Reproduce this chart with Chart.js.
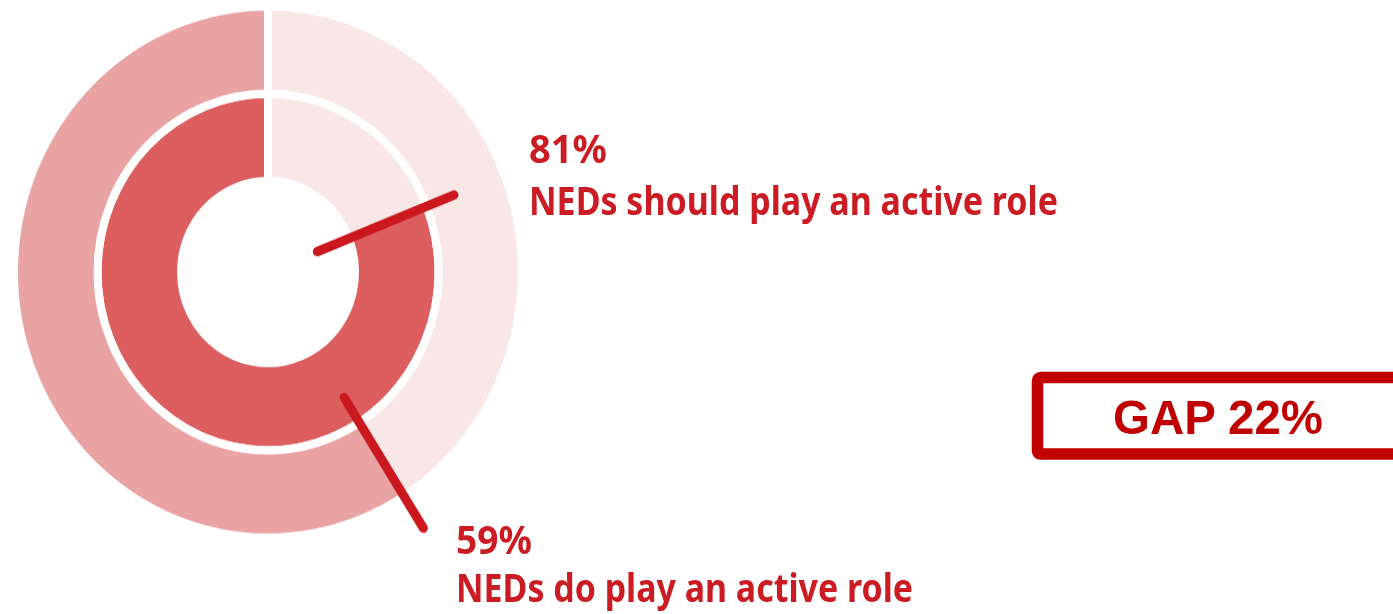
<!DOCTYPE html>
<html>
<head>
<meta charset="utf-8">
<script src="https://cdn.jsdelivr.net/npm/chart.js@4/dist/chart.umd.min.js"></script>
<style>
  html, body { margin: 0; padding: 0; background: #ffffff; }
  body { width: 1393px; height: 614px; position: relative; overflow: hidden; }
  #wrap { position: absolute; left: -2px; top: 1.5px; width: 540px; height: 540px;
          transform: scaleY(1.046); transform-origin: 50% 50%; }
  #overlay { position: absolute; left: 0; top: 0; pointer-events: none; }
  .lbl { font-family: "Noto Sans", Lato, sans-serif; font-weight: 700; fill: #CC1C23; }
  .gap { font-family: "Liberation Sans", Arial, sans-serif; font-weight: 700; fill: #C00000; }
</style>
</head>
<body>
<div id="wrap"><canvas id="c" width="540" height="540"></canvas></div>
<svg id="overlay" width="1393" height="614" xmlns="http://www.w3.org/2000/svg">
  <rect x="1037.5" y="377.6" width="362" height="76.5" rx="3" fill="none" stroke="#C00000" stroke-width="11.5"></rect>
  <text id="gapText" class="gap" x="1113" y="434" font-size="48" textLength="210" lengthAdjust="spacingAndGlyphs"></text>
  <text id="shouldPct" class="lbl" x="529" y="163" font-size="39" textLength="78" lengthAdjust="spacingAndGlyphs"></text>
  <text id="shouldLbl" class="lbl" x="529" y="215" font-size="39" textLength="529" lengthAdjust="spacingAndGlyphs"></text>
  <text id="doPct" class="lbl" x="456" y="554" font-size="39" textLength="76" lengthAdjust="spacingAndGlyphs"></text>
  <text id="doLbl" class="lbl" x="456" y="602" font-size="39" textLength="457" lengthAdjust="spacingAndGlyphs"></text>
</svg>
<script>
// ---- data ----
const segmentNames = ['Remainder', 'Active role'];
const doPlayValues = [41, 59];       // outer ring: NEDs do play an active role
const shouldPlayValues = [19, 81];   // inner ring: NEDs should play an active role
const doPlayLabel = 'NEDs do play an active role';
const shouldPlayLabel = 'NEDs should play an active role';
const doPlayPct = '59%';
const shouldPlayPct = '81%';
const gapLabel = 'GAP 22%';

// ---- colours ----
const lightPink = '#F9E6E6';
const outerDark = '#E9A3A3';
const innerDark = '#DC5E5F';
const leaderRed = '#CB181F';

document.getElementById('shouldPct').textContent = shouldPlayPct;
document.getElementById('shouldLbl').textContent = shouldPlayLabel;
document.getElementById('doPct').textContent = doPlayPct;
document.getElementById('doLbl').textContent = doPlayLabel;
document.getElementById('gapText').textContent = gapLabel;

// leader lines drawn along the start edge of each ring's "active role" arc
const leaderPlugin = {
  id: 'leaders',
  afterDatasetsDraw(chart) {
    const ctx = chart.ctx;
    const specs = [
      { ds: 1, from: 53, to: 200 },
      { ds: 0, from: 142, to: 290 }
    ];
    ctx.save();
    ctx.strokeStyle = leaderRed;
    ctx.lineWidth = 9;
    ctx.lineCap = 'round';
    specs.forEach(s => {
      const arc = chart.getDatasetMeta(s.ds).data[1];
      const a = arc.startAngle;
      const cx = arc.x, cy = arc.y;
      ctx.beginPath();
      ctx.moveTo(cx + Math.cos(a) * s.from, cy + Math.sin(a) * s.from);
      ctx.lineTo(cx + Math.cos(a) * s.to, cy + Math.sin(a) * s.to);
      ctx.stroke();
    });
    ctx.restore();
  }
};

new Chart(document.getElementById('c'), {
  type: 'doughnut',
  data: {
    labels: segmentNames,
    datasets: [
      { label: doPlayLabel, data: doPlayValues, backgroundColor: [lightPink, outerDark],
        borderColor: '#ffffff', borderWidth: 8, hoverOffset: 0, hoverBorderWidth: 8 },
      { label: shouldPlayLabel, data: shouldPlayValues, backgroundColor: [lightPink, innerDark],
        borderColor: '#ffffff', borderWidth: 8, hoverOffset: 0, hoverBorderWidth: 8 }
    ]
  },
  options: {
    responsive: false,
    devicePixelRatio: 1,
    animation: false,
    radius: 254,
    cutout: '34.25%',
    rotation: 0,
    layout: { padding: 0 },
    plugins: { legend: { display: false }, tooltip: { enabled: false } },
    events: []
  },
  plugins: [leaderPlugin]
});
</script>
</body>
</html>
